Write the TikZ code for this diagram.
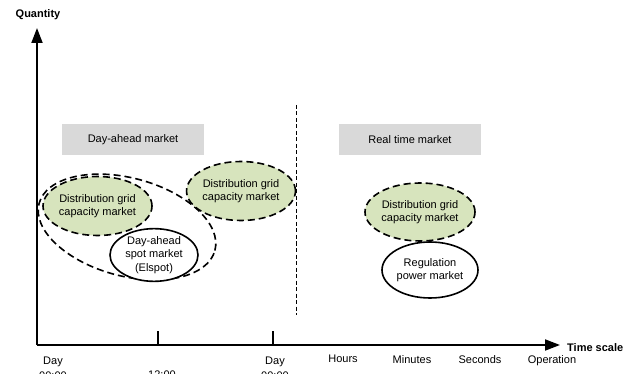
\documentclass[tikz,border=0pt]{standalone}
\usepackage{fontspec}
\setmainfont{Liberation Sans}
\usetikzlibrary{shapes.geometric,arrows.meta}
\definecolor{gfill}{HTML}{D7E4BD}
\definecolor{boxgray}{HTML}{D9D9D9}
\begin{document}
\begin{tikzpicture}[x=1pt,y=-1pt,
  lbl/.style={font=\fontsize{11}{13.5}\selectfont, align=center, inner sep=0pt},
  axis/.style={line width=1.8pt},
  dashell/.style={ellipse, draw, line width=1.6pt, dash pattern=on 7pt off 4pt, inner sep=0pt},
  greenell/.style={dashell, fill=gfill, lbl},
  solidell/.style={ellipse, draw, fill=white, line width=1.6pt, inner sep=0pt, lbl},
  graybox/.style={rectangle, fill=boxgray, inner sep=0pt, minimum width=142pt, minimum height=31pt, lbl},
  boldlbl/.style={font=\fontsize{11}{13.5}\selectfont\bfseries, inner sep=0pt},
  ticklbl/.style={font=\fontsize{11}{15}\selectfont, align=center, inner sep=0pt, anchor=north}
]
\useasboundingbox (0,0) rectangle (637,374);
\clip (0,0) rectangle (637,374);
\fill[white] (0,0) rectangle (637,374);

% axes
\coordinate (O) at (37,345);
\coordinate (ytip) at (37,28);
\coordinate (xtip) at (560,345);
\draw[axis, -{Triangle[length=15pt,width=11pt]}] (O) -- (ytip);
\draw[axis, -{Triangle[length=15pt,width=11pt]}] (O) -- (xtip);
\node[boldlbl] (qty) at (38,15) {Quantity};
\node[boldlbl, anchor=west] (ts) at (567,348) {Time scale};

% ticks
\coordinate (t1a) at (158,331); \coordinate (t1b) at (158,345);
\coordinate (t2a) at (273,331); \coordinate (t2b) at (273,345);
\draw[line width=1.8pt] (t1a) -- (t1b);
\draw[line width=1.8pt] (t2a) -- (t2b);

% tick labels
\node[ticklbl] (d0) at (53,357) {Day\\00:00};
\node[ticklbl] (d12) at (162,371) {12:00};
\node[ticklbl] (d1) at (275,357) {Day\\00:00};
\node[ticklbl] (hrs) at (343,355) {Hours};
\node[ticklbl] (min) at (412,355) {Minutes};
\node[ticklbl] (sec) at (480,355) {Seconds};
\node[ticklbl] (op) at (552,355) {Operation};

% separator
\coordinate (sepa) at (296,105);
\coordinate (sepb) at (296,315);
\draw[line width=0.8pt, dash pattern=on 4pt off 2.5pt] (sepa) -- (sepb);

% market boxes
\node[graybox] (dam) at (133,140) {Day-ahead market};
\node[graybox] (rtm) at (410,139.5) {Real time market};

% big dashed group ellipse
\node[dashell, minimum width=182pt, minimum height=98pt, rotate=-15] (grp) at (127,227) {};

% ellipses
\node[greenell, minimum width=109pt, minimum height=59pt] (dg1) at (97.5,206) {Distribution grid\\capacity market};
\node[solidell, minimum width=88pt, minimum height=45pt] (spot) at (154,255) {Day-ahead\\spot market\\(Elspot)};
\node[greenell, minimum width=108pt, minimum height=59pt] (dg2) at (241,191) {Distribution grid\\capacity market};
\node[greenell, minimum width=110pt, minimum height=58pt] (dg3) at (420,212) {Distribution grid\\capacity market};
\node[solidell, minimum width=96pt, minimum height=56pt] (reg) at (430,270) {Regulation\\power market};
\end{tikzpicture}
\end{document}
